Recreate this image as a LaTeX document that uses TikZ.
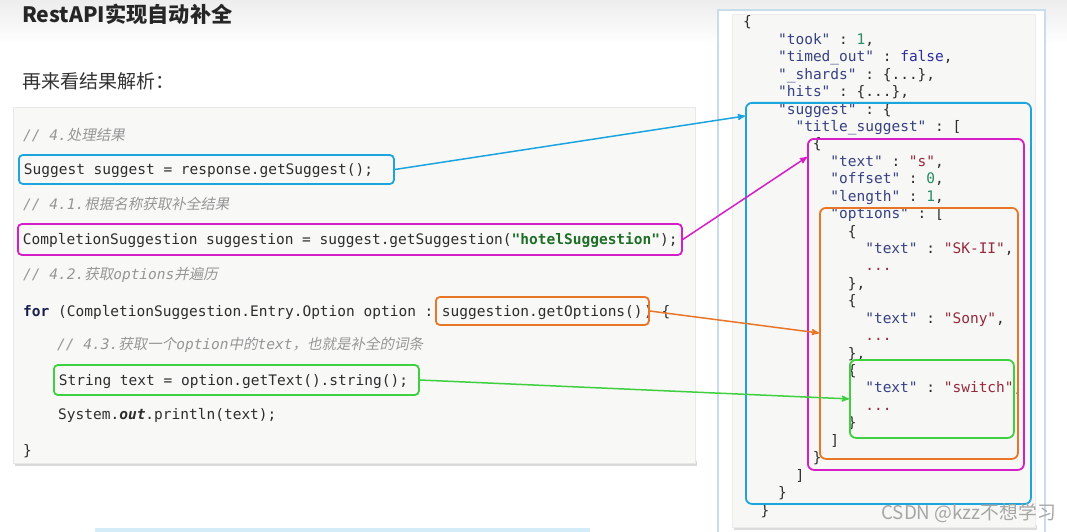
\documentclass[tikz,border=0pt]{standalone}
\usepackage{fontspec}
\setmonofont{DejaVu Sans Mono}
\newfontfamily\cjk{Noto Sans CJK SC}
\newfontfamily\cjkslant{Noto Sans CJK SC}[FakeSlant=0.2]
\usepackage{xcolor}
\usetikzlibrary{arrows}
\usetikzlibrary{shapes}

\definecolor{hlblue}{RGB}{28,164,222}
\definecolor{hlpink}{RGB}{214,30,200}
\definecolor{hlorange}{RGB}{232,118,40}
\definecolor{hlgreen}{RGB}{62,208,62}
\definecolor{codebg}{RGB}{248,248,246}
\definecolor{jsonbg}{RGB}{247,247,245}
\definecolor{cmtgray}{RGB}{150,150,150}
\definecolor{codetxt}{RGB}{45,45,45}
\definecolor{kwnavy}{RGB}{25,30,80}
\definecolor{strgreen}{RGB}{30,110,40}
\definecolor{keyblue}{RGB}{55,65,130}
\definecolor{numteal}{RGB}{40,140,100}
\definecolor{boolblue}{RGB}{45,45,160}
\definecolor{valred}{RGB}{150,40,60}
\definecolor{framelight}{RGB}{200,220,236}
\definecolor{stripblue}{RGB}{212,236,248}

\newlength\cw \setlength\cw{8.72pt}
\newcommand\ind[1]{\hspace*{#1\cw}}
\newcommand\zh[1]{{\cjkslant #1}}
\newcommand\ky[1]{\textcolor{keyblue}{"#1"}}
\newcommand\nm[1]{\textcolor{numteal}{#1}}
\newcommand\sv[1]{\textcolor{valred}{#1}}
\newcommand\codefont{\ttfamily\fontsize{14.5pt}{17.43pt}\selectfont\spaceskip=\cw\xspaceskip=\cw}

\begin{document}
\begin{tikzpicture}[x=1pt,y=-1pt,
    every node/.style={inner sep=0pt, anchor=base west, font=\codefont, text=codetxt},
    cmt/.style={font=\codefont\itshape, text=cmtgray},
    codebox/.style={draw=#1, line width=1.8pt, rounded corners=4pt, anchor=west,
        inner xsep=5pt, text height=12pt, text depth=2pt, minimum height=29pt},
    jsbox/.style={draw=#1, line width=1.8pt, rounded corners=6pt, anchor=north west},
    link/.style={-stealth', line width=1.5pt, draw=#1}]

    \useasboundingbox (0,0) rectangle (1067,532);

    %===========================
    % Background
    %===========================
    \shade[top color=gray!14, bottom color=white] (0,0) rectangle (1067,45);
    \fill[stripblue] (95,528) rectangle (590,533);
    \node (title) at (22,14) [anchor=west, font=\cjk\bfseries\fontsize{21.2pt}{25pt}\selectfont, text=black!85] {RestAPI实现自动补全};
    \node (sub) at (22,81) [anchor=west, font=\cjk\fontsize{19pt}{22pt}\selectfont, text=black!80] {再来看结果解析：};

    %===========================
    % Java code
    %===========================
    \fill[gray!30] (15,461) rectangle (697,466);
    \draw[gray!18, fill=codebg] (13,107) rectangle (695,463);

    \node (c1) at (23,140) [cmt] {// 4.\zh{处理结果}};
    \draw node (sugbox) at (18,169.5) [codebox=hlblue] {\makebox[365pt][l]{Suggest suggest = response.getSuggest();}};
    \node (c2) at (23,209) [cmt] {// 4.1.\zh{根据名称获取补全结果}};
    \draw node (csbox) at (17,239.5) [codebox=hlpink, minimum height=31pt] {\makebox[654pt][l]{CompletionSuggestion suggestion = suggest.getSuggestion(\textbf{\textcolor{strgreen}{"hotelSuggestion"}});}};
    \node (c3) at (23,279) [cmt] {// 4.2.\zh{获取}options\zh{并遍历}};
    \node (forln) at (23,316) {\textbf{\textcolor{kwnavy}{for}} (CompletionSuggestion.Entry.Option option :};
    \node (forend) at (644,316) {) \{};
    \draw node (optbox) at (435,311) [codebox=hlorange, inner xsep=6pt, minimum height=28pt] {\makebox[201pt][l]{suggestion.getOptions()}};
    \node (c4) at (57,349) [cmt] {// 4.3.\zh{获取一个}option\zh{中的}text\zh{，也就是补全的词条}};
    \draw node (txtbox) at (53,380) [codebox=hlgreen, minimum height=30pt] {\makebox[355pt][l]{String text = option.getText().string();}};
    \node (prt) at (58,419) {System.\textbf{\textit{out}}.println(text);};
    \node (rb) at (23,455) {\}};

    %===========================
    % JSON result
    %===========================
    \draw[framelight, line width=1.2pt, fill=white] (718,540) -- (718,10) -- (1045,10) -- (1045,540);
    \fill[gray!28] (734,525) rectangle (1037,530);
    \draw[gray!15, fill=jsonbg] (732,14) rectangle (1035,527);

    % base of a multi-line node is its last line
    \node (json) at (743,515) [align=left] {\{\\
        \ind{4}\ky{took} : \nm{1},\\
        \ind{4}\ky{timed\_out} : \textcolor{boolblue}{false},\\
        \ind{4}\ky{\_shards} : \{...\},\\
        \ind{4}\ky{hits} : \{...\},\\
        \ind{4}\ky{suggest} : \{\\
        \ind{6}\ky{title\_suggest} : [\\
        \ind{8}\{\\
        \ind{10}\ky{text} : \sv{"s"},\\
        \ind{10}\ky{offset} : \nm{0},\\
        \ind{10}\ky{length} : \nm{1},\\
        \ind{10}\ky{options} : [\\
        \ind{12}\{\\
        \ind{14}\ky{text} : \sv{"SK-II"},\\
        \ind{14}\sv{...}\\
        \ind{12}\},\\
        \ind{12}\{\\
        \ind{14}\ky{text} : \sv{"Sony"},\\
        \ind{14}\sv{...}\\
        \ind{12}\},\\
        \ind{12}\{\\
        \ind{14}\ky{text} : \sv{"switch"},\\
        \ind{14}\sv{...}\\
        \ind{12}\}\\
        \ind{10}]\\
        \ind{8}\}\\
        \ind{6}]\\
        \ind{4}\}\\
        \ind{2}\}};

    \draw node (jsug) at (745,102) [jsbox=hlblue, minimum width=285pt, minimum height=401pt] {};
    \draw node (jtitle) at (807,138) [jsbox=hlpink, minimum width=216pt, minimum height=331pt] {};
    \draw node (jopts) at (819,207) [jsbox=hlorange, minimum width=198pt, minimum height=251pt] {};
    \draw node (jswitch) at (849,359) [jsbox=hlgreen, minimum width=164pt, minimum height=78pt] {};

    % Links
    \draw[link=hlblue] (sugbox.east) to ([yshift=-14pt]jsug.north west);
    \draw[link=hlpink] (csbox.east) to ([yshift=-19pt]jtitle.north west);
    \draw[link=hlorange] (optbox.east) to ([yshift=-126pt]jopts.north west);
    \draw[link=hlgreen] (txtbox.east) to (jswitch.west);

    \node (wm) at (1056,513) [anchor=east, font=\cjk\fontsize{18.8pt}{21pt}\selectfont, text=gray!70] {CSDN @kzz不想学习};

\end{tikzpicture}
\end{document}
